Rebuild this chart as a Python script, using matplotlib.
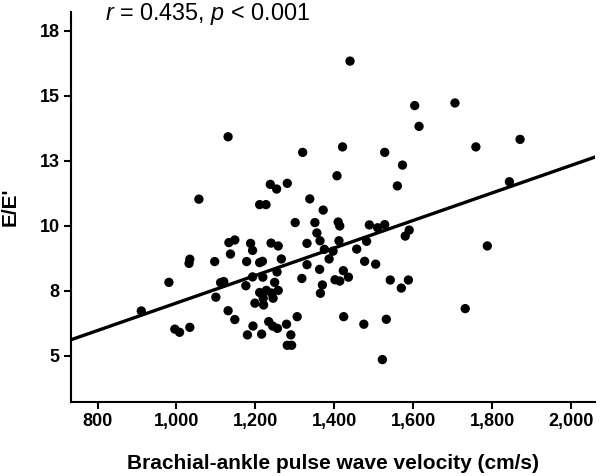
import matplotlib
matplotlib.use("Agg")
import matplotlib.pyplot as plt
import numpy as np

plt.rcParams["font.family"] = ["Liberation Sans", "DejaVu Sans"]
plt.rcParams["mathtext.fontset"] = "custom"
plt.rcParams["mathtext.rm"] = "Liberation Sans"
plt.rcParams["mathtext.it"] = "Liberation Sans:italic"

# brachial-ankle PWV (cm/s) vs E/E'
bapwv = [911, 981, 1034, 1032, 996, 1008, 1034, 1057, 1097, 1112,
         1120, 1100, 1133, 1148, 1137, 1131, 1148, 1131, 1178, 1176,
         1188, 1193, 1211, 1218, 1193, 1219, 1240, 1258, 1266, 1255,
         1249, 1211, 1228, 1241, 1258, 1220, 1245, 1199, 1221, 1194,
         1180, 1216, 1234, 1244, 1256, 1279, 1290, 1281, 1292, 1306,
         1318, 1211, 1227, 1238, 1254, 1281, 1301, 1320, 1338, 1372,
         1351, 1410, 1414, 1356, 1331, 1364, 1412, 1375, 1397, 1387,
         1331, 1363, 1423, 1436, 1402, 1414, 1370, 1365, 1457, 1482,
         1477, 1505, 1489, 1510, 1528, 1590, 1580, 1542, 1588, 1570,
         1788, 1732, 1424, 1475, 1532, 1522, 1440, 1604, 1706, 1615,
         1759, 1871, 1421, 1528, 1573, 1407, 1560, 1844]
e_ratio = [6.72, 7.82, 8.71, 8.55, 6.02, 5.90, 6.09, 11.02, 8.62, 7.81,
           7.85, 7.25, 9.35, 9.45, 8.91, 6.73, 6.39, 13.42, 8.62, 7.69,
           9.32, 9.05, 8.58, 8.63, 8.03, 8.02, 9.33, 9.22, 8.72, 8.22,
           7.82, 7.43, 7.51, 7.41, 7.51, 7.21, 7.21, 7.02, 6.95, 6.14,
           5.80, 5.83, 6.31, 6.14, 6.05, 6.21, 5.80, 5.40, 5.40, 6.50,
           7.97, 10.81, 10.81, 11.59, 11.41, 11.63, 10.12, 12.82, 11.03, 10.60,
           10.12, 10.14, 9.99, 9.72, 9.32, 9.42, 9.42, 9.09, 9.02, 8.72,
           8.50, 8.32, 8.27, 8.02, 7.92, 7.87, 7.72, 7.40, 9.10, 9.40,
           8.63, 8.52, 10.03, 9.92, 10.04, 9.83, 9.60, 7.91, 7.91, 7.60,
           9.22, 6.81, 6.50, 6.21, 6.40, 4.85, 16.33, 14.62, 14.72, 13.82,
           13.03, 13.32, 13.03, 12.82, 12.33, 11.92, 11.53, 11.69]

fit_intercept = 1.735
fit_slope = 0.005291

x_ticks = [800, 1000, 1200, 1400, 1600, 1800, 2000]
x_labels = ["800", "1,000", "1,200", "1,400", "1,600", "1,800", "2,000"]
y_ticks = [5, 7.5, 10, 12.5, 15, 17.5]
y_labels = ["5", "8", "10", "13", "15", "18"]

fig = plt.figure(figsize=(6, 4.76), dpi=100)
ax = fig.add_axes([0.1178, 0.1561, 0.8739, 0.8193])

ax.scatter(bapwv, e_ratio, s=45, color="black", edgecolors="none", zorder=3)

xmin, xmax = 732, 2061
xs = np.array([xmin, xmax])
ax.plot(xs, fit_intercept + fit_slope * xs, color="black", lw=2.4, zorder=2)

ax.set_xlim(xmin, xmax)
ax.set_ylim(3.23, 18.23)
ax.set_xticks(x_ticks)
ax.set_xticklabels(x_labels, fontsize=13, fontweight="bold")
ax.set_yticks(y_ticks)
ax.set_yticklabels(y_labels, fontsize=13, fontweight="bold")

for side in ["top", "right"]:
    ax.spines[side].set_visible(False)
for side in ["left", "bottom"]:
    ax.spines[side].set_linewidth(1.5)
ax.tick_params(direction="out", length=5, width=1.5, pad=3)

ax.set_xlabel("Brachial-ankle pulse wave velocity (cm/s)", fontsize=15,
              fontweight="bold")
ax.set_ylabel("E/E'", fontsize=15, fontweight="bold")
ax.xaxis.set_label_coords(0.5, -0.135)
ax.yaxis.set_label_coords(-0.097, 0.5)

fig.text(0.175, 0.958, r"$r$ = 0.435, $p$ < 0.001", fontsize=16.8,
         ha="left", va="baseline")

fig.savefig("out.png", dpi=100)
